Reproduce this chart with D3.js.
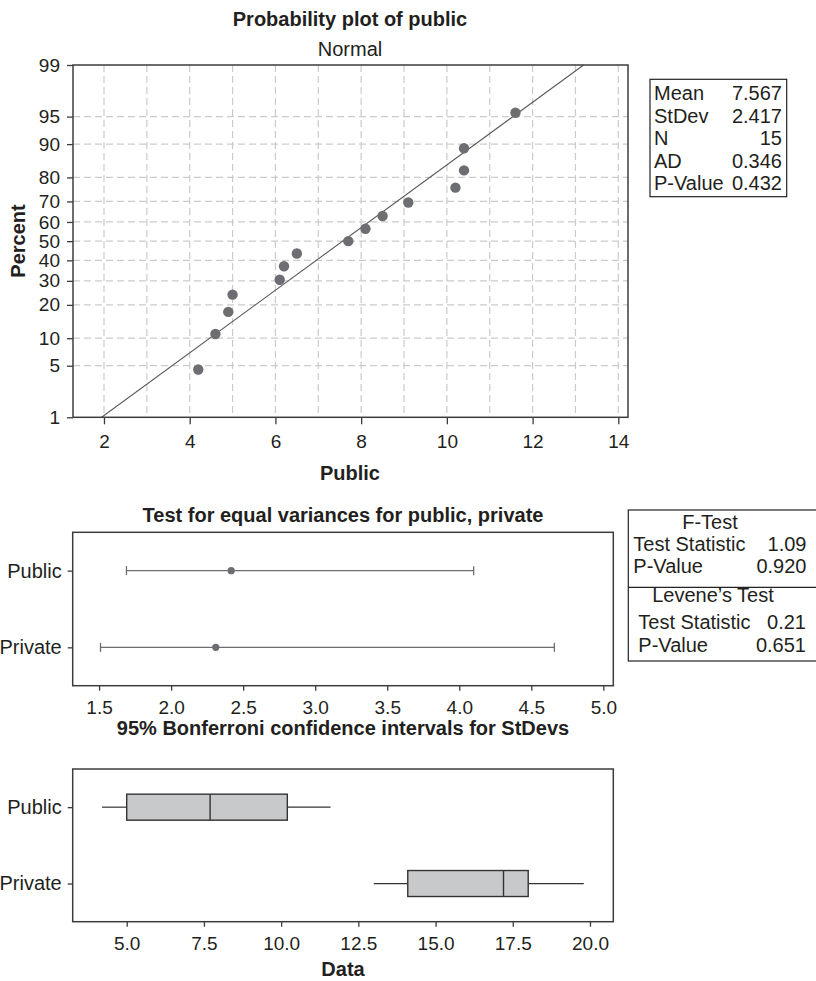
<!DOCTYPE html>
<html>
<head>
<meta charset="utf-8">
<script src="https://cdn.jsdelivr.net/npm/d3@7"></script>
<style>
  body { margin: 0; background: #fff; }
  svg { display: block; font-family: "Liberation Sans", Arial, sans-serif; }
  text { fill: #231f20; }
</style>
</head>
<body>
<div id="chart"></div>
<script>
// ---- data ----
const publicValues = [4.2, 4.6, 4.9, 5.0, 6.1, 6.2, 6.5, 7.7, 8.1, 8.5, 9.1, 10.2, 10.4, 10.4, 11.6];
const plotPercents = [4.5, 11, 17.5, 24, 30.5, 37, 43.5, 50, 56.5, 63, 69.5, 76, 82.5, 89, 95.5];
const percentTicks = [1, 5, 10, 20, 30, 40, 50, 60, 70, 80, 90, 95, 99];
const publicTicks = [2, 4, 6, 8, 10, 12, 14];
const publicGrid = [2, 3, 4, 5, 6, 7, 8, 9, 10, 11, 12, 13, 14];
const fitMean = 7.567;
const fitStDev = 2.417;
const statLabels = ["Mean", "StDev", "N", "AD", "P-Value"];
const statValues = ["7.567", "2.417", "15", "0.346", "0.432"];

const groups = ["Public", "Private"];
const ciLower = [1.69, 1.51];
const ciStDev = [2.417, 2.31];
const ciUpper = [4.10, 4.66];
const ciTicks = [1.5, 2.0, 2.5, 3.0, 3.5, 4.0, 4.5, 5.0];

const boxMin = [4.2, 13.0];
const boxQ1 = [5.0, 14.1];
const boxMedian = [7.7, 17.2];
const boxQ3 = [10.2, 18.0];
const boxMax = [11.6, 19.8];
const dataTicks = [5.0, 7.5, 10.0, 12.5, 15.0, 17.5, 20.0];

// ---- helpers ----
// inverse normal CDF (Acklam's approximation), used for the probability scale
function probit(p) {
    const a = [-3.969683028665376e+01, 2.209460984245205e+02, -2.759285104469687e+02, 1.383577518672690e+02, -3.066479806614716e+01, 2.506628277459239e+00];
    const b = [-5.447609879822406e+01, 1.615858368580409e+02, -1.556989798598866e+02, 6.680131188771972e+01, -1.328068155288572e+01];
    const c = [-7.784894002430293e-03, -3.223964580411365e-01, -2.400758277161838e+00, -2.549732539343734e+00, 4.374664141464968e+00, 2.938163982698783e+00];
    const d = [7.784695709041462e-03, 3.224671290700398e-01, 2.445134137142996e+00, 3.754408661907416e+00];
    const pl = 0.02425;
    let q, r;
    if (p < pl) {
        q = Math.sqrt(-2 * Math.log(p));
        return (((((c[0]*q+c[1])*q+c[2])*q+c[3])*q+c[4])*q+c[5]) / ((((d[0]*q+d[1])*q+d[2])*q+d[3])*q+1);
    } else if (p <= 1 - pl) {
        q = p - 0.5; r = q * q;
        return (((((a[0]*r+a[1])*r+a[2])*r+a[3])*r+a[4])*r+a[5])*q / (((((b[0]*r+b[1])*r+b[2])*r+b[3])*r+b[4])*r+1);
    }
    q = Math.sqrt(-2 * Math.log(1 - p));
    return -(((((c[0]*q+c[1])*q+c[2])*q+c[3])*q+c[4])*q+c[5]) / ((((d[0]*q+d[1])*q+d[2])*q+d[3])*q+1);
}

const FONT = 20;
const TICK_FONT = 19;
const frameColor = "#3c3c3c";

const svg = d3.select("#chart").append("svg")
    .attr("width", 816)
    .attr("height", 981);

function styleAxis(g) {
    g.select(".domain").remove();
    g.selectAll(".tick line").attr("stroke", frameColor).attr("stroke-width", 1.3);
    g.selectAll(".tick text").style("font-size", TICK_FONT + "px").attr("fill", "#231f20");
}

// ================= 1. probability plot =================
const p1 = { left: 73, right: 628, top: 65, bottom: 417.3 };
const x1 = d3.scaleLinear().domain([1.277, 14.226]).range([p1.left, p1.right]);
const z1 = d3.scaleLinear().domain([probit(0.01), probit(0.99)]).range([p1.bottom, p1.top]);
const yPct = v => z1(probit(v / 100));

const g1 = svg.append("g");

// grid
g1.selectAll(".vgrid").data(publicGrid).join("line")
    .attr("x1", d => x1(d)).attr("x2", d => x1(d))
    .attr("y1", p1.top).attr("y2", p1.bottom)
    .attr("stroke", "#cbcbcb").attr("stroke-width", 1.2).attr("stroke-dasharray", "7,4");
g1.selectAll(".hgrid").data(percentTicks.filter(d => d > 1 && d < 99)).join("line")
    .attr("x1", p1.left).attr("x2", p1.right)
    .attr("y1", d => yPct(d)).attr("y2", d => yPct(d))
    .attr("stroke", "#cbcbcb").attr("stroke-width", 1.2).attr("stroke-dasharray", "7,4");

// fitted normal line
const zLo = probit(0.01), zHi = probit(0.99);
g1.append("line")
    .attr("x1", x1(fitMean + zLo * fitStDev)).attr("y1", z1(zLo))
    .attr("x2", x1(fitMean + zHi * fitStDev)).attr("y2", z1(zHi))
    .attr("stroke", "#5a5a5a").attr("stroke-width", 1.1);

// points
g1.selectAll(".pt").data(publicValues).join("circle")
    .attr("cx", d => x1(d))
    .attr("cy", (d, i) => yPct(plotPercents[i]))
    .attr("r", 5.2)
    .attr("fill", "#6d6e71");

// frame
g1.append("rect")
    .attr("x", p1.left).attr("y", p1.top)
    .attr("width", p1.right - p1.left).attr("height", p1.bottom - p1.top)
    .attr("fill", "none").attr("stroke", frameColor).attr("stroke-width", 1.5);

// axes
g1.append("g").attr("transform", `translate(0,${p1.bottom})`)
    .call(d3.axisBottom(x1).tickValues(publicTicks).tickSize(7).tickPadding(10).tickFormat(d3.format("d")))
    .call(styleAxis);
const yAxis1 = d3.axisLeft(d3.scaleLinear().domain(z1.domain()).range(z1.range()))
    .tickValues(percentTicks.map(d => probit(d / 100)))
    .tickSize(6).tickPadding(7)
    .tickFormat((d, i) => percentTicks[i]);
g1.append("g").attr("transform", `translate(${p1.left},0)`)
    .call(yAxis1)
    .call(styleAxis);

// titles
g1.append("text").attr("x", 350).attr("y", 26).attr("text-anchor", "middle")
    .style("font-size", FONT + "px").style("font-weight", "bold").text("Probability plot of public");
g1.append("text").attr("x", 350).attr("y", 56).attr("text-anchor", "middle")
    .style("font-size", FONT + "px").text("Normal");
g1.append("text").attr("x", 350).attr("y", 480).attr("text-anchor", "middle")
    .style("font-size", FONT + "px").style("font-weight", "bold").text("Public");
g1.append("text").attr("transform", "translate(25,241) rotate(-90)").attr("text-anchor", "middle")
    .style("font-size", FONT + "px").style("font-weight", "bold").text("Percent");

// stats box
const sb = { x: 650, y: 79.3, w: 136.7, h: 117.4 };
g1.append("rect").attr("x", sb.x).attr("y", sb.y).attr("width", sb.w).attr("height", sb.h)
    .attr("fill", "none").attr("stroke", "#222").attr("stroke-width", 1.2);
statLabels.forEach((lab, i) => {
    const yy = 100 + i * 22.6;
    g1.append("text").attr("x", 654).attr("y", yy).style("font-size", FONT + "px").text(lab);
    g1.append("text").attr("x", 782).attr("y", yy).attr("text-anchor", "end").style("font-size", FONT + "px").text(statValues[i]);
});

// ================= 2. equal variances =================
const p2 = { left: 72.7, right: 613.3, top: 532.3, bottom: 685.7 };
const x2 = d3.scaleLinear().domain([1.317, 5.069]).range([p2.left, p2.right]);
const y2 = d3.scalePoint().domain(groups).range([p2.top, p2.bottom]).padding(0.5);
const g2 = svg.append("g");

g2.append("rect")
    .attr("x", p2.left).attr("y", p2.top)
    .attr("width", p2.right - p2.left).attr("height", p2.bottom - p2.top)
    .attr("fill", "none").attr("stroke", frameColor).attr("stroke-width", 1.5);

const ci = groups.map((g, i) => ({ g, lo: ciLower[i], mid: ciStDev[i], hi: ciUpper[i] }));
g2.selectAll(".ci").data(ci).join("line")
    .attr("x1", d => x2(d.lo)).attr("x2", d => x2(d.hi))
    .attr("y1", d => y2(d.g)).attr("y2", d => y2(d.g))
    .attr("stroke", "#6d6e71").attr("stroke-width", 1.3);
["lo", "hi"].forEach(k => {
    g2.selectAll(".cap-" + k).data(ci).join("line")
        .attr("x1", d => x2(d[k])).attr("x2", d => x2(d[k]))
        .attr("y1", d => y2(d.g) - 4.5).attr("y2", d => y2(d.g) + 4.5)
        .attr("stroke", "#6d6e71").attr("stroke-width", 1.3);
});
g2.selectAll(".cidot").data(ci).join("circle")
    .attr("cx", d => x2(d.mid)).attr("cy", d => y2(d.g)).attr("r", 3.6)
    .attr("fill", "#6d6e71");

g2.append("g").attr("transform", `translate(0,${p2.bottom})`)
    .call(d3.axisBottom(x2).tickValues(ciTicks).tickSize(5).tickPadding(10).tickFormat(d3.format(".1f")))
    .call(styleAxis);
g2.append("g").attr("transform", `translate(${p2.left},0)`)
    .call(d3.axisLeft(y2).tickSize(5).tickPadding(6))
    .call(styleAxis)
    .selectAll(".tick text").style("font-size", FONT + "px");

g2.append("text").attr("x", 343).attr("y", 521.7).attr("text-anchor", "middle")
    .style("font-size", FONT + "px").style("font-weight", "bold").text("Test for equal variances for public, private");
g2.append("text").attr("x", 343).attr("y", 735).attr("text-anchor", "middle")
    .style("font-size", FONT + "px").style("font-weight", "bold").text("95% Bonferroni confidence intervals for StDevs");

// test statistics box
g2.append("rect").attr("x", 628.3).attr("y", 510).attr("width", 200).attr("height", 151)
    .attr("fill", "none").attr("stroke", "#222").attr("stroke-width", 1.2);
g2.append("line").attr("x1", 628.3).attr("x2", 830).attr("y1", 587.3).attr("y2", 587.3)
    .attr("stroke", "#222").attr("stroke-width", 1.2);
const tbox = [
    { t: "F-Test", x: 710, y: 529.3, anchor: "middle" },
    { t: "Test Statistic", x: 633.3, y: 551, anchor: "start" },
    { t: "1.09", x: 806.5, y: 551, anchor: "end" },
    { t: "P-Value", x: 633.3, y: 572.7, anchor: "start" },
    { t: "0.920", x: 806.5, y: 572.7, anchor: "end" },
    { t: "Levene\u2019s Test", x: 713, y: 601.7, anchor: "middle" },
    { t: "Test Statistic", x: 638.3, y: 629, anchor: "start" },
    { t: "0.21", x: 806, y: 629, anchor: "end" },
    { t: "P-Value", x: 638.3, y: 651.7, anchor: "start" },
    { t: "0.651", x: 806, y: 651.7, anchor: "end" }
];
g2.selectAll(".tb").data(tbox).join("text")
    .attr("x", d => d.x).attr("y", d => d.y).attr("text-anchor", d => d.anchor)
    .style("font-size", FONT + "px").text(d => d.t);

// ================= 3. boxplots =================
const p3 = { left: 72.7, right: 613.3, top: 769, bottom: 921.7 };
const x3 = d3.scaleLinear().domain([3.251, 20.755]).range([p3.left, p3.right]);
const y3 = d3.scalePoint().domain(groups).range([p3.top, p3.bottom]).padding(0.5);
const g3 = svg.append("g");

g3.append("rect")
    .attr("x", p3.left).attr("y", p3.top)
    .attr("width", p3.right - p3.left).attr("height", p3.bottom - p3.top)
    .attr("fill", "none").attr("stroke", frameColor).attr("stroke-width", 1.5);

const boxes = groups.map((g, i) => ({ g, min: boxMin[i], q1: boxQ1[i], med: boxMedian[i], q3: boxQ3[i], max: boxMax[i] }));
const bh = 26;
g3.selectAll(".wl").data(boxes).join("line")
    .attr("x1", d => x3(d.min)).attr("x2", d => x3(d.q1))
    .attr("y1", d => y3(d.g)).attr("y2", d => y3(d.g))
    .attr("stroke", "#333").attr("stroke-width", 1.2);
g3.selectAll(".wr").data(boxes).join("line")
    .attr("x1", d => x3(d.q3)).attr("x2", d => x3(d.max))
    .attr("y1", d => y3(d.g)).attr("y2", d => y3(d.g))
    .attr("stroke", "#333").attr("stroke-width", 1.2);
g3.selectAll(".bx").data(boxes).join("rect")
    .attr("x", d => x3(d.q1)).attr("width", d => x3(d.q3) - x3(d.q1))
    .attr("y", d => y3(d.g) - bh / 2).attr("height", bh)
    .attr("fill", "#c8c9cb").attr("stroke", "#333").attr("stroke-width", 1.4);
g3.selectAll(".md").data(boxes).join("line")
    .attr("x1", d => x3(d.med)).attr("x2", d => x3(d.med))
    .attr("y1", d => y3(d.g) - bh / 2).attr("y2", d => y3(d.g) + bh / 2)
    .attr("stroke", "#333").attr("stroke-width", 1.4);

g3.append("g").attr("transform", `translate(0,${p3.bottom})`)
    .call(d3.axisBottom(x3).tickValues(dataTicks).tickSize(5).tickPadding(10).tickFormat(d3.format(".1f")))
    .call(styleAxis);
g3.append("g").attr("transform", `translate(${p3.left},0)`)
    .call(d3.axisLeft(y3).tickSize(5).tickPadding(6))
    .call(styleAxis)
    .selectAll(".tick text").style("font-size", FONT + "px");

g3.append("text").attr("x", 343).attr("y", 976).attr("text-anchor", "middle")
    .style("font-size", FONT + "px").style("font-weight", "bold").text("Data");
</script>
</body>
</html>
